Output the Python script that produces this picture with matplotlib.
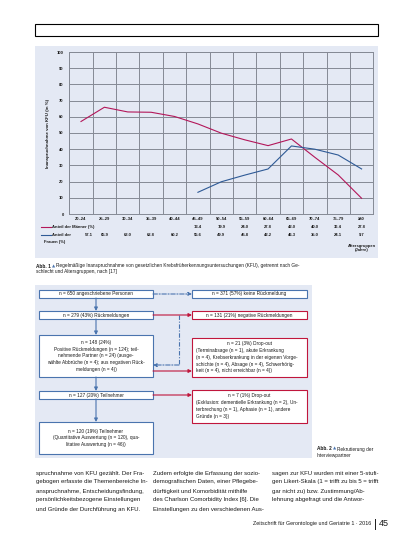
import matplotlib
matplotlib.use("Agg")
import matplotlib.pyplot as plt
from matplotlib.patches import Rectangle
import numpy as np

plt.rcParams['font.family'] = ['Liberation Sans', 'DejaVu Sans']

# --- data -------------------------------------------------------------
age_groups = ["20–24", "25–29", "30–34", "35–39", "40–44", "45–49", "50–54",
              "55–59", "60–64", "65–69", "70–74", "75–79", "≥80"]
women = [57.1, 65.9, 63.0, 62.8, 60.2, 55.6, 49.9, 45.8, 42.2, 46.3, 35.0, 24.1, 9.7]
men = [13.4, 19.9, 24.0, 27.8, 42.0, 40.0, 36.4, 27.8]
men_start = 5  # men start at 45-49
y_ticks = list(range(0, 101, 10))

row_men_label = "Anteil der Männer (%)"

flow_left = [
    "n = 650 angeschriebene Personen",
    "n = 279 (43%) Rückmeldungen",
    "n = 148 (24%)\nPositive Rückmeldungen (n = 124); teil-\nnehmende Partner (n = 24) (ausge-\nwählte Abbrüche (n = 4); aus negativen Rück-\nmeldungen (n = 4))",
    "n = 127 (20%) Teilnehmer",
    "n = 120 (19%) Teilnehmer\n(Quantitative Auswertung (n = 120), qua-\nlitative Auswertung (n = 46))",
]
flow_right_titles = [
    "n = 371 (57%) keine Rückmeldung",
    "n = 131 (21%) negative Rückmeldungen",
    "n = 21 (3%) Drop-out",
    "n = 7 (1%) Drop-out",
]
flow_right_bodies = [
    "",
    "",
    "(Terminabsage (n = 1), akute Erkrankung\n(n = 4), Krebserkrankung in der eigenen Vorge-\nschichte (n = 4), Absage (n = 4), Schwerhörig-\nkeit (n = 4), nicht erreichbar (n = 4))",
    "(Exklusion: dementielle Erkrankung (n = 2), Un-\nterbrechung (n = 1), Aphasie (n = 1), andere\nGründe (n = 3))",
]

body_cols = [
    ["spruchnahme von KFU gezählt. Der Fra-",
     "gebogen erfasste die Themenbereiche In-",
     "anspruchnahme, Entscheidungsfindung,",
     "persönlichkeitsbezogene Einstellungen",
     "und Gründe der Durchführung an KFU."],
    ["Zudem erfolgte die Erfassung der sozio-",
     "demografischen Daten, einer Pflegebe-",
     "dürftigkeit und Komorbidität mithilfe",
     "des Charlson Comorbidity Index [6]. Die",
     "Einstellungen zu den verschiedenen Aus-"],
    ["sagen zur KFU wurden mit einer 5-stufi-",
     "gen Likert-Skala (1 = trifft zu bis 5 = trifft",
     "gar nicht zu) bzw. Zustimmung/Ab-",
     "lehnung abgefragt und die Antwor-"],
]

# --- colours ------------------------------------------------------------
panel = "#E4E9F4"
red = "#B3175A"
blue = "#2E5A96"
fblue = "#4A74AE"
fred = "#C0163C"
grid = "#858A95"
ink = "#1A1A1A"

W, H = 413, 549
fig = plt.figure(figsize=(W / 100, H / 100), dpi=100)
fig.patch.set_facecolor("white")
renderer = fig.canvas.get_renderer()

ov = fig.add_axes([0, 0, 1, 1], zorder=0)
ov.set_xlim(0, W)
ov.set_ylim(H, 0)
ov.axis("off")


def chain(x, y, parts, **kw):
    # write several text pieces one after another on one line
    for txt, extra in parts:
        t = ov.text(x, y, txt, va="center", **dict(kw, **extra))
        bb = t.get_window_extent(renderer=renderer)
        x += bb.width * W / fig.bbox.width + 1.2


# top frame
ov.add_patch(Rectangle((35, 24), 343, 12, fill=False, ec="black", lw=0.8))
# chart panel
ov.add_patch(Rectangle((35, 46), 343, 212, fc=panel, ec="none"))


def px_axes(x0, y0, x1, y1, **kw):
    return fig.add_axes([x0 / W, 1 - y1 / H, (x1 - x0) / W, (y1 - y0) / H], **kw)


ax = px_axes(69.3, 52, 373.3, 214, zorder=1)
ax.set_facecolor(panel)
n = len(age_groups)
xc = np.arange(n) + 0.5
ax.plot(xc, women, color=red, lw=0.8)
ax.plot(xc[men_start:], men, color=blue, lw=0.8)
ax.set_xlim(0, n)
ax.set_ylim(0, 100)
ax.set_xticks(np.arange(n + 1))
ax.set_yticks(y_ticks)
ax.set_yticklabels([str(t) for t in y_ticks], fontsize=3, fontweight="bold", color=ink)
ax.tick_params(axis="x", length=0, labelbottom=False)
ax.tick_params(axis="y", length=0, pad=4)
ax.grid(True, color=grid, lw=0.7)
for s in ax.spines.values():
    s.set_color(grid)
    s.set_linewidth(0.7)

tr = ax.get_xaxis_transform()
tk = dict(transform=tr, ha="center", va="center", fontsize=3, fontweight="bold",
          color=ink, clip_on=False)
for i, lab in enumerate(age_groups):
    ax.text(xc[i], -0.032, lab, **tk)
for i, v in enumerate(men):
    ax.text(xc[men_start + i], -0.08, f"{v:.1f}", **tk)
for i, v in enumerate(women):
    ax.text(xc[i] + (0.35 if i == 0 else 0), -0.13, f"{v:.1f}", **tk)

# legend rows
ov.plot([41, 51], [227, 227], color=red, lw=0.8)
ov.plot([41, 51], [235, 235], color=blue, lw=0.8)
lk = dict(fontsize=3, fontweight="bold", color=ink, va="center")
ov.text(52, 227, row_men_label, **lk)
ov.text(52, 235, "Anteil der", **lk)
ov.text(44, 242, "Frauen (%)", **lk)
ov.text(362, 248, "Altersgruppen\n(Jahre)", fontsize=3, fontweight="bold", color=ink,
        ha="center", va="center", linespacing=1.3)
ov.text(48, 133, "Inanspruchnahme von KFU (in %)", fontsize=3.2, fontweight="bold",
        color=ink, rotation=90, ha="center", va="center")

# caption 1
cap_fs = 3.45
chain(36, 266, [("Abb. 1", dict(fontweight="bold")),
                ("▲", dict(color=fblue, family="DejaVu Sans", fontsize=3)),
                ("Regelmäßige Inanspruchnahme von gesetzlichen Krebsfrüherkennungsuntersuchungen (KFU), getrennt nach Ge-", {})],
      fontsize=cap_fs, color=ink)
ov.text(36, 271.5, "schlecht und Altersgruppen, nach [17]", fontsize=cap_fs, color=ink, va="center")

# --- flowchart ----------------------------------------------------------
ov.add_patch(Rectangle((35, 285), 277, 173, fc=panel, ec="none"))

lx0, lx1 = 39, 153
rx0, rx1 = 192, 307
left_boxes = [(290, 298), (311, 319), (335, 377), (391, 399), (422, 454)]
right_boxes = [(290, 298), (311, 319), (338, 377), (390, 423)]
right_colors = [fblue, fred, fred, fred]
fs = 3.4

for (y0, y1), txt in zip(left_boxes, flow_left):
    ov.add_patch(Rectangle((lx0, y0), lx1 - lx0, y1 - y0, fc="white", ec=fblue, lw=0.8))
    ov.text((lx0 + lx1) / 2, (y0 + y1) / 2, txt, fontsize=fs, color=ink,
            ha="center", va="center", linespacing=1.45)

for (y0, y1), title, body, c in zip(right_boxes, flow_right_titles, flow_right_bodies, right_colors):
    ov.add_patch(Rectangle((rx0, y0), rx1 - rx0, y1 - y0, fc="white", ec=c, lw=0.8))
    if body:
        ov.text((rx0 + rx1) / 2, y0 + 5, title, fontsize=fs, color=ink,
                ha="center", va="center")
        ov.text(rx0 + 4, y0 + 10, body, fontsize=fs, color=ink, ha="left", va="top",
                linespacing=1.45)
    else:
        ov.text((rx0 + rx1) / 2, (y0 + y1) / 2, title, fontsize=fs, color=ink,
                ha="center", va="center")

ap = dict(arrowstyle="-|>", lw=0.8, mutation_scale=5, shrinkA=0, shrinkB=0)
dashdot = (0, (4, 1.5, 1, 1.5))
# vertical blue arrows down the left column
xm = (lx0 + lx1) / 2
for (a0, a1), (b0, b1) in zip(left_boxes[:-1], left_boxes[1:]):
    ov.annotate("", xy=(xm, b0), xytext=(xm, a1), arrowprops=dict(ap, color=fblue))
# blue dash-dot to "keine Rückmeldung"
ov.annotate("", xy=(rx0, 294), xytext=(lx1, 294),
            arrowprops=dict(ap, color=fblue, linestyle=dashdot))
# red arrows to negative / drop-out
for yy in (315, 371, 395):
    ov.annotate("", xy=(rx0, yy), xytext=(lx1, yy), arrowprops=dict(ap, color=fred))
# dashed feedback from negative responses to box 3
ov.plot([179, 179], [315, 365], color=fblue, lw=0.8, linestyle=dashdot)
ov.annotate("", xy=(lx1, 365), xytext=(179, 365),
            arrowprops=dict(ap, color=fblue, linestyle=dashdot))

# caption 2
chain(317, 449, [("Abb. 2", dict(fontweight="bold")),
                 ("▲", dict(color=fblue, family="DejaVu Sans", fontsize=3)),
                 ("Rekrutierung der", {})],
      fontsize=cap_fs, color=ink)
ov.text(317, 455.5, "Interviewpartner", fontsize=cap_fs, color=ink, va="center")

# --- body text ------------------------------------------------------------
col_x = [36, 153, 272]
for x, lines in zip(col_x, body_cols):
    for k, line in enumerate(lines):
        ov.text(x, 473 + k * 9, line, fontsize=4.3, color=ink, va="center")

# footer
ov.text(371, 524, "Zeitschrift für Gerontologie und Geriatrie 1 · 2016", fontsize=3.9,
        color=ink, ha="right", va="center")
ov.plot([375, 375], [519, 529], color=ink, lw=0.7)
ov.text(379, 524, "45", fontsize=6.5, color=ink, ha="left", va="center")

fig.savefig("out.png", dpi=100)
